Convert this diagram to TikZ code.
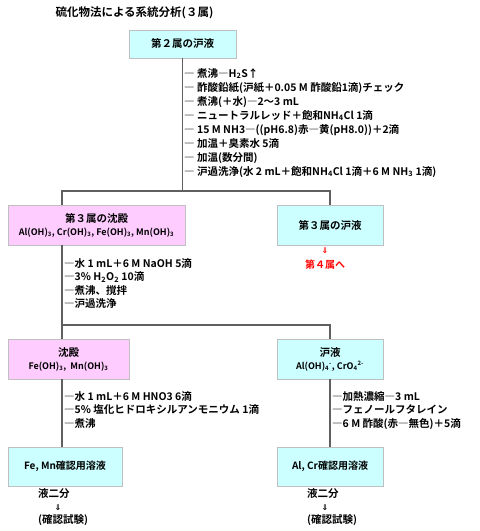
\documentclass[tikz,border=0pt]{standalone}
\usepackage{fontspec}
\setmainfont{Noto Sans CJK JP}[BoldFont={Noto Sans CJK JP Bold}]
\newfontfamily\symfont{DejaVu Sans}
\definecolor{boxcyan}{HTML}{CCFFFF}
\definecolor{boxpink}{HTML}{FFCCFF}
\definecolor{boxedge}{HTML}{BFBFBF}
\definecolor{linegray}{HTML}{5F5F5F}
\newcommand{\sbs}[1]{\textsubscript{#1}}
\newcommand{\sps}[1]{\textsuperscript{#1}}
\newcommand{\dnarrow}{{\symfont\bfseries ⇓}}
\begin{document}
\begin{tikzpicture}[x=1pt,y=-1pt,
	every node/.style={font=\bfseries},
	cyanbox/.style={draw=boxedge, fill=boxcyan, inner sep=0pt, align=center},
	pinkbox/.style={draw=boxedge, fill=boxpink, inner sep=0pt, align=center},
	steplist/.style={anchor=north west, inner sep=0pt, align=left, font=\bfseries\fontsize{10.5}{14}\selectfont},
	conn/.style={draw=linegray, line width=1.2pt}]
	\useasboundingbox (0,0) rectangle (480,531);

	% タイトル
	\node[anchor=west, font=\bfseries\fontsize{11.5}{13}\selectfont] (title) at (52,13) {硫化物法による系統分析(３属)};

	% 第２属の沪液
	\node[cyanbox, minimum width=107pt, minimum height=28pt, font=\bfseries\fontsize{10.5}{12}\selectfont] (g2filt) at (182.5,44) {第２属の沪液};
	\node[steplist] (steps1) at (184,68) {― 煮沸―H\sbs{2}S↑\\
		― 酢酸鉛紙(沪紙＋0.05 M 酢酸鉛1滴)チェック\\
		― 煮沸(＋水)―2～3 mL\\
		― ニュートラルレッド＋飽和NH\sbs{4}Cl 1滴\\
		― 15 M NH3―((pH6.8)赤―黄(pH8.0))＋2滴\\
		― 加温＋臭素水 5滴\\
		― 加温(数分間)\\
		― 沪過洗浄(水 2 mL＋飽和NH\sbs{4}Cl 1滴＋6 M NH\sbs{3} 1滴)};

	% 第３属
	\node[pinkbox, minimum width=177pt, minimum height=40pt] (g3ppt) at (96.5,225)
		{{\fontsize{10.5}{12}\selectfont 第３属の沈殿}\\[1pt]
		{\fontsize{9}{10}\selectfont Al(OH)\sbs{3}, Cr(OH)\sbs{3}, Fe(OH)\sbs{3}, Mn(OH)\sbs{3}}};
	\node[cyanbox, minimum width=106pt, minimum height=40pt, font=\bfseries\fontsize{10.5}{12}\selectfont] (g3filt) at (330,225) {第３属の沪液};
	\node[text=red, font=\fontsize{8}{9}\selectfont, inner sep=0pt] (tog4arrow) at (325,251) {\dnarrow};
	\node[text=red, font=\bfseries\fontsize{10}{12}\selectfont, inner sep=0pt] (tog4) at (325,265) {第４属へ};
	\node[steplist, font=\bfseries\fontsize{10.5}{13.5}\selectfont] (steps2) at (64,258) {―水 1 mL＋6 M NaOH 5滴\\
		―3\% H\sbs{2}O\sbs{2} 10滴\\
		―煮沸、撹拌\\
		―沪過洗浄};

	% 沈殿と沪液
	\node[pinkbox, minimum width=121pt, minimum height=40pt] (ppt) at (68.5,359)
		{{\fontsize{10.5}{12}\selectfont 沈殿}\\[1pt]
		{\fontsize{9}{10}\selectfont Fe(OH)\sbs{3},\ \ Mn(OH)\sbs{3}}};
	\node[cyanbox, minimum width=106pt, minimum height=40pt] (filt) at (330,359)
		{{\fontsize{10.5}{12}\selectfont 沪液}\\[1pt]
		{\fontsize{9}{10}\selectfont Al(OH)\sbs{4}\sps{-}, CrO\sbs{4}\sps{2-}}};
	\node[steplist, font=\bfseries\fontsize{10.5}{13.5}\selectfont] (steps3l) at (64,391) {―水 1 mL＋6 M HNO3 6滴\\
		―5\% 塩化ヒドロキシルアンモニウム 1滴\\
		―煮沸};
	\node[steplist, font=\bfseries\fontsize{10.5}{13.5}\selectfont] (steps3r) at (332,391) {―加熱濃縮―3 mL\\
		―フェノールフタレイン\\
		―6 M 酢酸(赤―無色)＋5滴};

	% 確認用溶液
	\node[cyanbox, minimum width=114pt, minimum height=39pt, font=\bfseries\fontsize{10}{11}\selectfont] (femn) at (65,466.5) {Fe, Mn確認用溶液};
	\node[cyanbox, minimum width=106pt, minimum height=39pt, font=\bfseries\fontsize{10}{11}\selectfont] (alcr) at (330,466.5) {Al, Cr確認用溶液};
	\node[anchor=west, inner sep=0pt, font=\bfseries\fontsize{10.5}{12}\selectfont] (splitl) at (38,494) {液二分};
	\node[inner sep=0pt, font=\fontsize{8}{9}\selectfont] (arrowl) at (58,508) {\dnarrow};
	\node[anchor=west, inner sep=0pt, font=\bfseries\fontsize{10.5}{12}\selectfont] (testl) at (38,520) {(確認試験)};
	\node[anchor=west, inner sep=0pt, font=\bfseries\fontsize{10.5}{12}\selectfont] (splitr) at (307,494) {液二分};
	\node[inner sep=0pt, font=\fontsize{8}{9}\selectfont] (arrowr) at (325,508) {\dnarrow};
	\node[anchor=west, inner sep=0pt, font=\bfseries\fontsize{10.5}{12}\selectfont] (testr) at (307,520) {(確認試験)};

	% 連結線
	\coordinate (fork1l) at (62,191);
	\coordinate (fork1r) at (330,191);
	\draw[conn] (g2filt.south) -- (g2filt.south |- fork1l);
	\draw[conn] (g3ppt.north -| fork1l) -- (fork1l) -- (fork1r) -- (g3filt.north);
	\coordinate (fork2l) at (62,325);
	\coordinate (fork2r) at (330,325);
	\draw[conn] (g3ppt.south -| fork2l) -- (ppt.north -| fork2l);
	\draw[conn] (fork2l) -- (fork2r) -- (filt.north);
	\draw[conn] (ppt.south -| fork2l) -- (femn.north -| fork2l);
	\draw[conn] (filt.south) -- (alcr.north);
\end{tikzpicture}
\end{document}
